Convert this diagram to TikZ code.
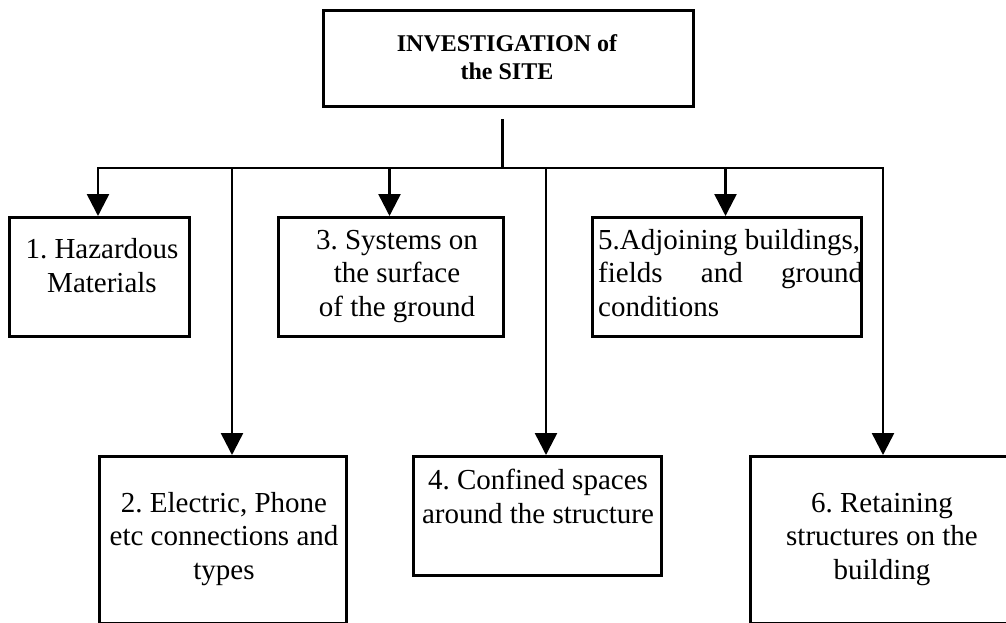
\documentclass[tikz,border=0pt]{standalone}
\usepackage{fontspec}
\setmainfont{Liberation Serif}
\usetikzlibrary{arrows.meta,calc}
\frenchspacing
\begin{document}
\begin{tikzpicture}[x=1pt,y=-1pt,
  box/.style={draw=black,line width=2.5pt,inner sep=0pt,anchor=north west},
  txt/.style={inner sep=0pt,font=\fontsize{29}{33.5}\selectfont\frenchspacing,align=center},
  ttxt/.style={inner sep=0pt,font=\bfseries\fontsize{24}{27.3}\selectfont,align=center},
  conn/.style={draw=black,line width=2.5pt,line cap=rect},
  arr/.style={conn,-{Triangle[width=22pt,length=22pt]}}]
\useasboundingbox (0,0) rectangle (1006,622);
\clip (0,0) rectangle (1006,622);
% boxes
\node[box,minimum width=370pt,minimum height=96pt] (t) at (322,9) {};
\node[box,minimum width=180pt,minimum height=119pt] (b1) at (8,216) {};
\node[box,minimum width=225pt,minimum height=119pt] (b3) at (277,216) {};
\node[box,minimum width=269pt,minimum height=119pt] (b5) at (591,216) {};
\node[box,minimum width=247pt,minimum height=167pt] (b2) at (98,455) {};
\node[box,minimum width=248pt,minimum height=119pt] (b4) at (412,455) {};
\node[box,minimum width=268pt,minimum height=167pt] (b6) at (749,455) {};
% texts (base anchor = baseline of last line)
\node[ttxt,anchor=base] (tt) at (507,79) {INVESTIGATION of\\the SITE};
\node[txt,anchor=base] (t1) at (102,292) {1. Hazardous\\Materials};
\node[txt,anchor=base] (t3) at (397,316) {3. Systems on\\the surface\\of the ground};
\node[txt,anchor=base west,align=left] (t5) at (598,316) {5.Adjoining buildings,\\\makebox[265pt][s]{fields and ground}\\conditions};
\node[txt,anchor=base] (t2) at (224,579) {2. Electric, Phone\\etc connections and\\types};
\node[txt,anchor=base] (t4) at (538,523) {4. Confined spaces\\around the structure};
\node[txt,anchor=base] (t6) at (882,579) {6. Retaining\\structures on the\\building};
% connectors
\coordinate (jt) at (502.5,120);
\coordinate (jb) at (502.5,168);
\coordinate (a1) at (98,168);
\coordinate (a2) at (232,168);
\coordinate (a3) at (389.5,168);
\coordinate (a4) at (546,168);
\coordinate (a5) at (725.5,168);
\coordinate (a6) at (883,168);
\draw[conn] (jt) -- (jb);
\draw[conn] (a1) -- (a6);
\draw[arr] (a1) -- (a1 |- b1.north);
\draw[arr] (a2) -- (a2 |- b2.north);
\draw[arr] (a3) -- (a3 |- b3.north);
\draw[arr] (a4) -- (a4 |- b4.north);
\draw[arr] (a5) -- (a5 |- b5.north);
\draw[arr] (a6) -- (a6 |- b6.north);
\end{tikzpicture}
\end{document}
